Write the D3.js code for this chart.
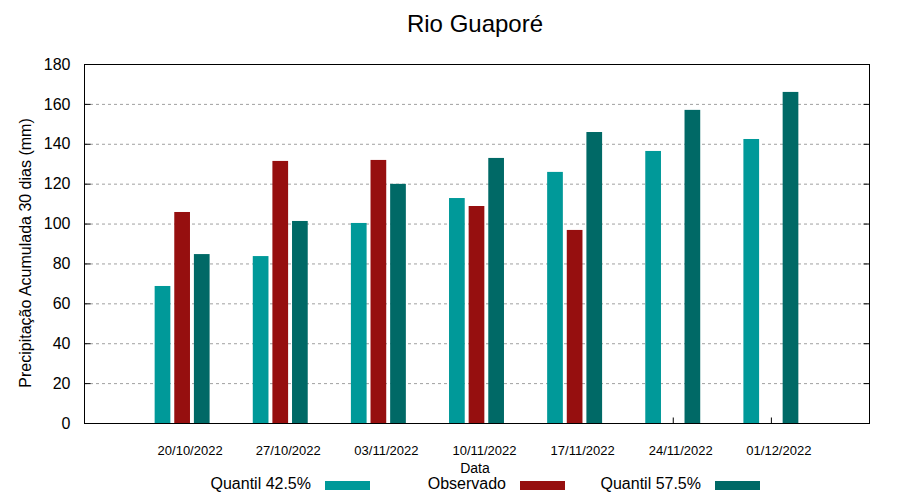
<!DOCTYPE html>
<html><head><meta charset="utf-8">
<script src="https://cdn.jsdelivr.net/npm/d3@7"></script>
<style>body{margin:0;background:#fff}text{font-family:"Liberation Sans",Arial,sans-serif}</style>
</head><body><svg id="c" width="900" height="500"></svg>
<script>
const categories = ["20/10/2022","27/10/2022","03/11/2022","10/11/2022","17/11/2022","24/11/2022","01/12/2022"];
const quantil425 = [68.7, 83.7, 100.3, 112.8, 125.9, 136.4, 142.4];
const observado  = [105.8, 131.4, 131.9, 108.8, 96.8, null, null];
const quantil575 = [84.7, 101.3, 119.9, 132.9, 145.9, 157.0, 166.0];
const yTicks = [0,20,40,60,80,100,120,140,160,180];
const seriesNames = ["Quantil 42.5%","Observado","Quantil 57.5%"];
const colors = ["#009999","#960f0f","#006966"];

const svg = d3.select("#c");
const L=84,R=869,T=64,B=423;
const x = d3.scaleLinear().domain([-1,7]).range([L,R]);
const y = d3.scaleLinear().domain([0,180]).range([B,T]);
const series=[quantil425,observado,quantil575];
const offs=[-0.2,0,0.2], bw=0.16;

// grid
svg.append("g").selectAll("line").data(yTicks.filter(d=>d>0&&d<180)).join("line")
 .attr("x1",L).attr("x2",R).attr("y1",d=>y(d)+0.5).attr("y2",d=>y(d)+0.5)
 .attr("stroke","#a0a0a0").attr("stroke-dasharray","3,3").attr("stroke-width",1);

// x ticks (behind bars)
const xb=d3.axisBottom(x).tickValues(d3.range(categories.length)).tickSize(-6).tickFormat("");
const gx=svg.append("g").attr("transform",`translate(0,${B+0.5})`).call(xb);
gx.select(".domain").remove(); gx.selectAll("line").attr("stroke","#000");

// bars
series.forEach((s,si)=>{
  svg.append("g").selectAll("rect").data(s.map((v,i)=>({v,i})).filter(d=>d.v!=null)).join("rect")
   .attr("x",d=>x(d.i+offs[si]-bw/2)).attr("width",x(bw)-x(0))
   .attr("y",d=>y(d.v)).attr("height",d=>B-y(d.v)).attr("fill",colors[si]);
});

// y axes ticks
const yl=d3.axisLeft(y).tickValues(yTicks).tickSize(-6).tickPadding(14).tickFormat(d3.format("d"));
const gy=svg.append("g").attr("transform",`translate(${L+0.5},0)`).call(yl);
gy.select(".domain").remove();
gy.selectAll("text").attr("font-size",16).attr("fill","#000").attr("font-family","Liberation Sans, Arial");
gy.selectAll("line").attr("stroke","#000");
const yr=d3.axisRight(y).tickValues(yTicks).tickSize(-6).tickFormat("");
const gyr=svg.append("g").attr("transform",`translate(${R+0.5},0)`).call(yr);
gyr.select(".domain").remove(); gyr.selectAll("line").attr("stroke","#000");

svg.append("g").selectAll("text").data(categories).join("text")
 .attr("x",(d,i)=>x(i)+8).attr("y",455).attr("text-anchor","middle").attr("font-size",13).text(d=>d);

// frame
svg.append("rect").attr("x",L+0.5).attr("y",T+0.5).attr("width",R-L).attr("height",B-T)
 .attr("fill","none").attr("stroke","#000").attr("stroke-width",1);

// titles
svg.append("text").attr("x",475).attr("y",32).attr("text-anchor","middle").attr("font-size",24).text("Rio Guaporé");
svg.append("text").attr("x",475).attr("y",473).attr("text-anchor","middle").attr("font-size",14).text("Data");
svg.append("text").attr("transform","translate(31,253) rotate(-90)").attr("text-anchor","middle").attr("font-size",16).text("Precipitação Acumulada 30 dias (mm)");

// legend
const legEnd=[311,506,701];
seriesNames.forEach((n,i)=>{
  svg.append("text").attr("x",legEnd[i]).attr("y",489).attr("text-anchor","end").attr("font-size",16).text(n);
  svg.append("rect").attr("x",legEnd[i]+14).attr("y",481).attr("width",45).attr("height",9).attr("fill",colors[i]);
});
</script></body></html>
